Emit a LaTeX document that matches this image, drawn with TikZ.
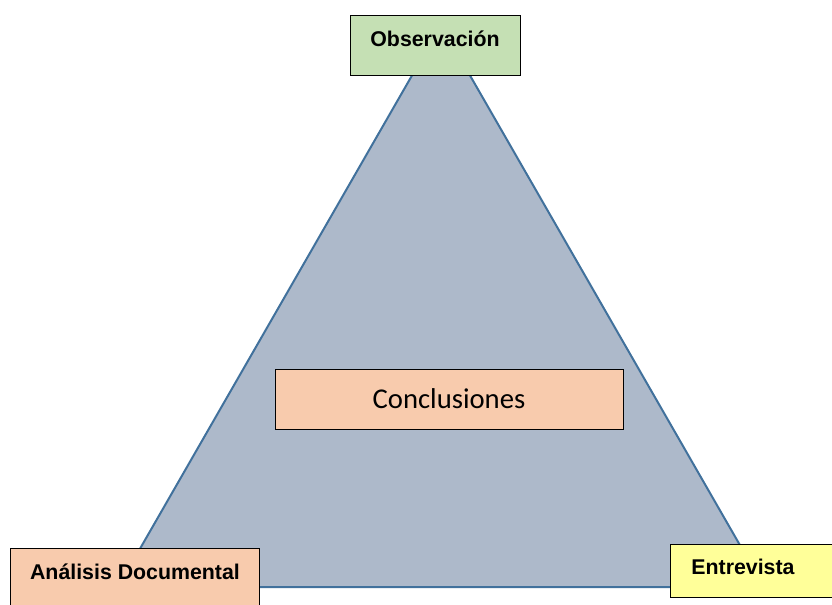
\documentclass[tikz,border=0pt]{standalone}
\usepackage{fontspec}
\setmainfont{Liberation Sans}
\newfontfamily\calibrifont{Carlito}
\usepackage{xcolor}

\definecolor{trifill}{RGB}{173,185,202}
\definecolor{triedge}{RGB}{65,113,156}
\definecolor{obsgreen}{RGB}{197,224,180}
\definecolor{peach}{RGB}{248,203,173}
\definecolor{softyellow}{RGB}{255,255,153}

\tikzset{
  techbox/.style={draw=black, line width=0.75pt, inner sep=0pt, rectangle},
  techlabel/.style={inner sep=0.75pt, font=\fontsize{16}{19}\selectfont\bfseries},
}

\begin{document}
\begin{tikzpicture}[x=0.75pt,y=0.75pt,yscale=-1,xscale=1]
\useasboundingbox (0,0) rectangle (832,604);

%Shape: Triangle [id:tri]
\draw [color=triedge, line width=1.5pt, fill=trifill, line join=miter] (441,25) -- (764,587) -- (118,587) -- cycle ;

%Shape: Rectangle [id:obs]
\node [techbox, fill=obsgreen, minimum width=127.5pt, minimum height=45pt] (obs) at (435,45) {};
%Shape: Rectangle [id:doc]
\node [techbox, fill=peach, minimum width=186.75pt, minimum height=54pt] (doc) at (134.5,584) {};
%Shape: Rectangle [id:ent]
\node [techbox, fill=softyellow, minimum width=131.25pt, minimum height=39.75pt] (ent) at (757.5,570.5) {};
%Shape: Rectangle [id:concl]
\node [techbox, fill=peach, minimum width=261pt, minimum height=45pt, font=\calibrifont\fontsize{21.5}{26}\selectfont] (concl) at (449,399) {Conclusiones};

% Text Node
\node [techlabel] (obstxt) at (435,39) {Observación};
% Text Node
\node [techlabel] (doctxt) at (135,572) {Análisis Documental};
% Text Node
\node [techlabel] (enttxt) at (743,567) {Entrevista};

\end{tikzpicture}
\end{document}
